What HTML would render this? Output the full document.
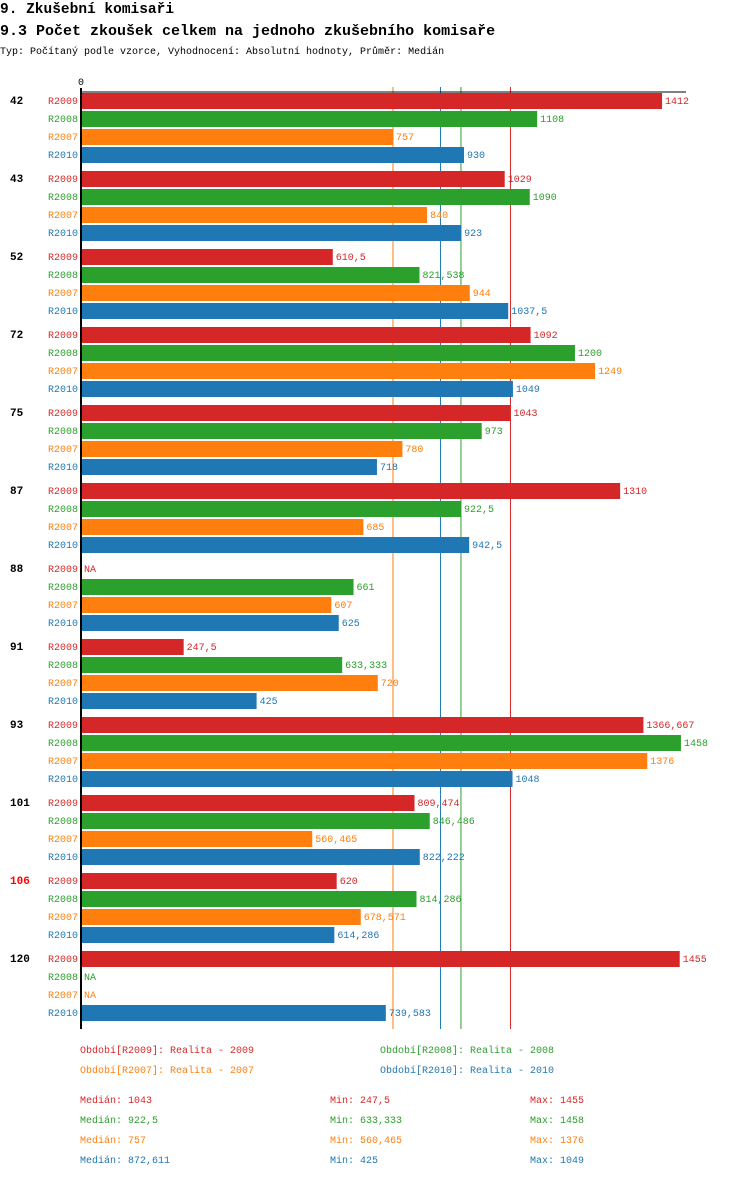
<!DOCTYPE html>
<html><head><meta charset="utf-8">
<style>
body{margin:0;background:#fff;width:750px;height:1178px;overflow:hidden;font-family:"Liberation Mono","DejaVu Sans Mono",monospace;}
svg text{font-family:"Liberation Mono","DejaVu Sans Mono",monospace;}
</style></head>
<body>
<svg id="chart" width="750" height="1178" xmlns="http://www.w3.org/2000/svg">
<text x="0" y="13" font-size="14.5" font-weight="bold">9. Zkušební komisaři</text>
<text x="0" y="35" font-size="15" font-weight="bold">9.3 Počet zkoušek celkem na jednoho zkušebního komisaře</text>
<text x="0" y="54" font-size="10">Typ: Počítaný podle vzorce, Vyhodnocení: Absolutní hodnoty, Průměr: Medián</text>
<g id="plot"></g>
</svg>
<script>
const categories = ["42","43","52","72","75","87","88","91","93","101","106","120"];
const seriesNames = ["R2009","R2008","R2007","R2010"];
const r2009 = [1412,1029,610.5,1092,1043,1310,null,247.5,1366.667,809.474,620,1455];
const r2008 = [1108,1090,821.538,1200,973,922.5,661,633.333,1458,846.486,814.286,null];
const r2007 = [757,840,944,1249,780,685,607,720,1376,560.465,678.571,null];
const r2010 = [930,923,1037.5,1049,718,942.5,625,425,1048,822.222,614.286,739.583];
const medians = [1043,922.5,757,872.611];
const mins = ["247,5","633,333","560,465","425"];
const maxs = ["1455","1458","1376","1049"];
const medianLabels = ["1043","922,5","757","872,611"];
const legendLabels = ["Realita - 2009","Realita - 2008","Realita - 2007","Realita - 2010"];
const colors = ["#d62728","#2ca02c","#ff7f0e","#1f77b4"];
const series = [r2009,r2008,r2007,r2010];

const NS="http://www.w3.org/2000/svg";
const plotG=document.getElementById('plot');
const x0=82, k=0.4108;
const xs=v=>x0+v*k;
const groupY=i=>93+78*i;
function mk(tag,attrs,parent){const e=document.createElementNS(NS,tag);for(const a in attrs)e.setAttribute(a,attrs[a]);(parent||plotG).appendChild(e);return e;}
function fmt(v){return String(Math.round(v*1000)/1000).replace('.',',');}

const medOrder=[2,3,1,0];
medOrder.forEach(s=>{
  const l=mk('line',{x1:xs(medians[s]),x2:xs(medians[s]),y1:87,y2:1029,stroke:colors[s],'stroke-width':1});
  
  
});

categories.forEach((c,i)=>{
  const gy=groupY(i);
  const t=mk('text',{x:10,y:gy+11,'font-size':11,'font-weight':'bold',fill:c==="106"?"#ff0000":"#000"});
  t.textContent=c;
  
  
  series.forEach((arr,s)=>{
    const y=gy+18*s;
    const lab=mk('text',{x:78,y:y+11,'font-size':10,'text-anchor':'end',fill:colors[s]});
    lab.textContent=seriesNames[s];
    
    
    const v=arr[i];
    if(v===null){
      const na=mk('text',{x:84,y:y+11,'font-size':10,fill:colors[s]});
      na.textContent="NA";
      
      
      return;
    }
    const r=mk('rect',{x:x0,y:y,width:xs(v)-x0,height:16,fill:colors[s]});
    
    
    const vt=mk('text',{x:xs(v)+3,y:y+11,'font-size':10,fill:colors[s]});
    vt.textContent=fmt(v);
    
    
  });
});

const axLine=mk('rect',{x:80,y:88,width:2,height:941,fill:'#000'});


const topLine=mk('line',{x1:80,x2:686,y1:92,y2:92,stroke:'#000','stroke-width':1});


const zeroLbl=mk('text',{x:81,y:85,'font-size':10,'text-anchor':'middle'});
zeroLbl.textContent="0";



const legPos=[[80,1053],[380,1053],[80,1073],[380,1073]];
seriesNames.forEach((n,s)=>{
  const t=mk('text',{x:legPos[s][0],y:legPos[s][1],'font-size':10,fill:colors[s]});
  t.textContent="Období["+n+"]: "+legendLabels[s];
  
  
});
seriesNames.forEach((n,s)=>{
  const y=1103+20*s;
  const a=mk('text',{x:80,y:y,'font-size':10,fill:colors[s]});a.textContent="Medián: "+medianLabels[s];
  
  
  const b=mk('text',{x:330,y:y,'font-size':10,fill:colors[s]});b.textContent="Min: "+mins[s];
  
  
  const d=mk('text',{x:530,y:y,'font-size':10,fill:colors[s]});d.textContent="Max: "+maxs[s];
  
  
});
</script>
</body></html>
